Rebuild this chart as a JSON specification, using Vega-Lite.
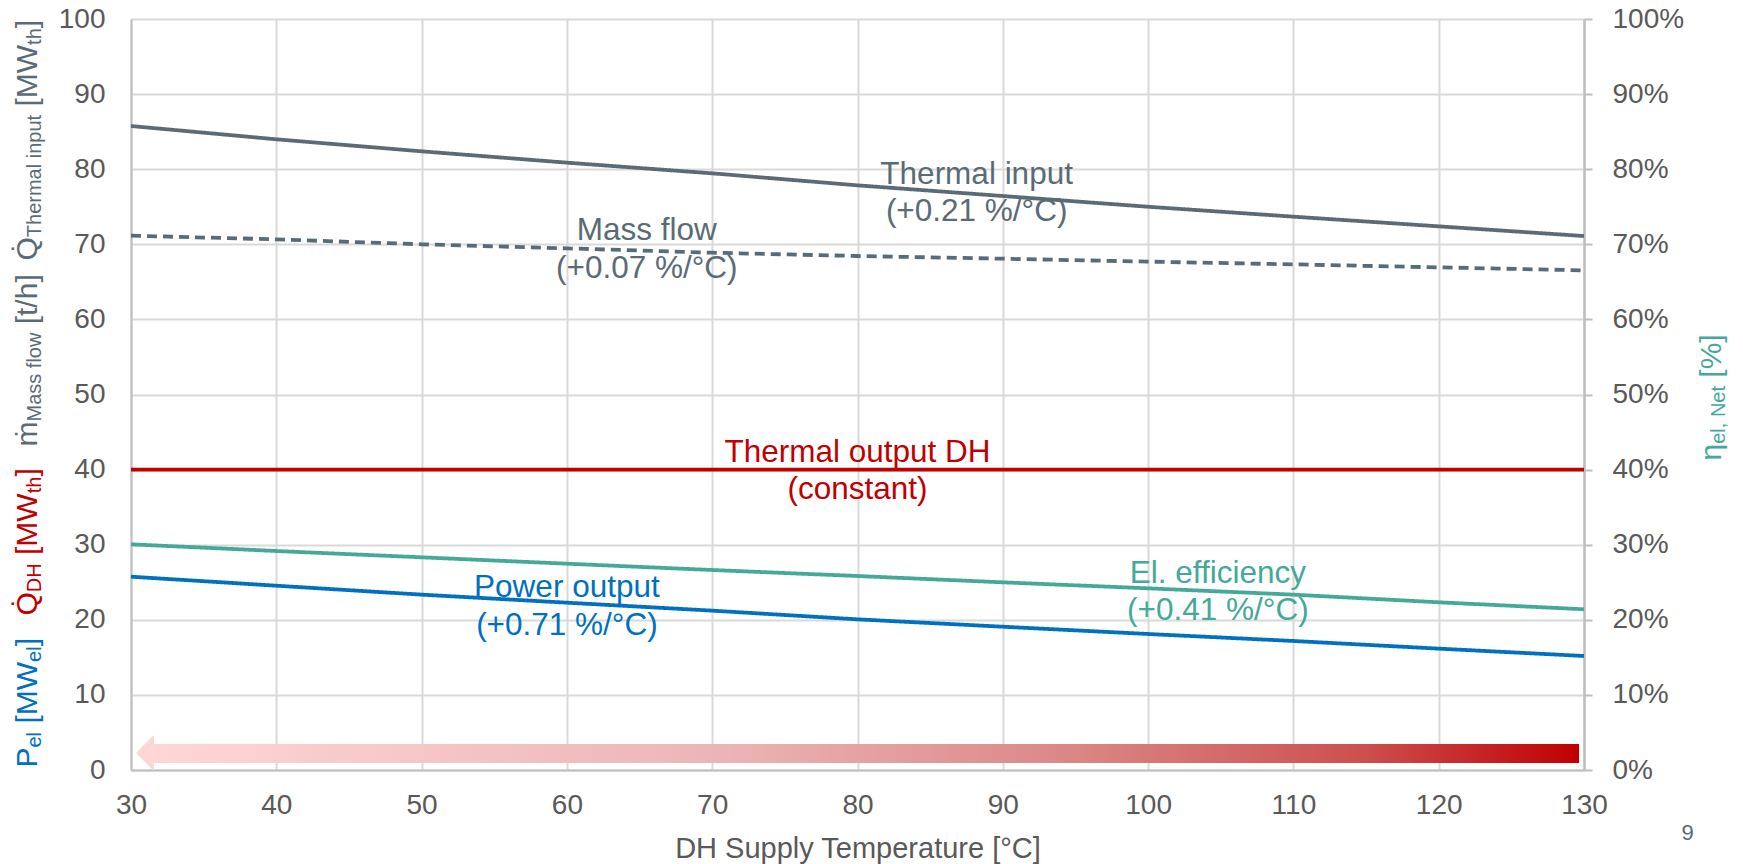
{
  "$schema": "https://vega.github.io/schema/vega-lite/v6.json",
  "width": 1453,
  "height": 751,
  "autosize": {"type": "none"},
  "padding": {"left": 131, "top": 19, "right": 159, "bottom": 94},
  "background": "white",
  "config": {"view": {"stroke": null}, "font": "Liberation Sans", "axis": {"titleFontWeight": "normal", "titleFont": "Liberation Sans", "labelFont": "Liberation Sans"}},
  "datasets": {
    "series": [
      {"series": "Thermal input", "t": 30, "v": 85.75}, {"series": "Thermal input", "t": 40, "v": 83.98}, {"series": "Thermal input", "t": 50, "v": 82.38}, {"series": "Thermal input", "t": 60, "v": 80.87}, {"series": "Thermal input", "t": 70, "v": 79.45}, {"series": "Thermal input", "t": 80, "v": 77.85}, {"series": "Thermal input", "t": 90, "v": 76.43}, {"series": "Thermal input", "t": 100, "v": 75.0}, {"series": "Thermal input", "t": 110, "v": 73.68}, {"series": "Thermal input", "t": 120, "v": 72.39}, {"series": "Thermal input", "t": 130, "v": 71.1},
      {"series": "Mass flow", "t": 30, "v": 71.15}, {"series": "Mass flow", "t": 40, "v": 70.66}, {"series": "Mass flow", "t": 50, "v": 70.0}, {"series": "Mass flow", "t": 60, "v": 69.46}, {"series": "Mass flow", "t": 70, "v": 68.88}, {"series": "Mass flow", "t": 80, "v": 68.44}, {"series": "Mass flow", "t": 90, "v": 68.08}, {"series": "Mass flow", "t": 100, "v": 67.69}, {"series": "Mass flow", "t": 110, "v": 67.33}, {"series": "Mass flow", "t": 120, "v": 66.93}, {"series": "Mass flow", "t": 130, "v": 66.53},
      {"series": "Thermal output DH", "t": 30, "v": 40}, {"series": "Thermal output DH", "t": 40, "v": 40}, {"series": "Thermal output DH", "t": 50, "v": 40}, {"series": "Thermal output DH", "t": 60, "v": 40}, {"series": "Thermal output DH", "t": 70, "v": 40}, {"series": "Thermal output DH", "t": 80, "v": 40}, {"series": "Thermal output DH", "t": 90, "v": 40}, {"series": "Thermal output DH", "t": 100, "v": 40}, {"series": "Thermal output DH", "t": 110, "v": 40}, {"series": "Thermal output DH", "t": 120, "v": 40}, {"series": "Thermal output DH", "t": 130, "v": 40},
      {"series": "El. efficiency", "t": 30, "v": 30.05}, {"series": "El. efficiency", "t": 40, "v": 29.16}, {"series": "El. efficiency", "t": 50, "v": 28.32}, {"series": "El. efficiency", "t": 60, "v": 27.47}, {"series": "El. efficiency", "t": 70, "v": 26.63}, {"series": "El. efficiency", "t": 80, "v": 25.83}, {"series": "El. efficiency", "t": 90, "v": 24.99}, {"series": "El. efficiency", "t": 100, "v": 24.19}, {"series": "El. efficiency", "t": 110, "v": 23.35}, {"series": "El. efficiency", "t": 120, "v": 22.33}, {"series": "El. efficiency", "t": 130, "v": 21.4},
      {"series": "Power output", "t": 30, "v": 25.74}, {"series": "Power output", "t": 40, "v": 24.54}, {"series": "Power output", "t": 50, "v": 23.35}, {"series": "Power output", "t": 60, "v": 22.28}, {"series": "Power output", "t": 70, "v": 21.22}, {"series": "Power output", "t": 80, "v": 20.06}, {"series": "Power output", "t": 90, "v": 19.08}, {"series": "Power output", "t": 100, "v": 18.11}, {"series": "Power output", "t": 110, "v": 17.18}, {"series": "Power output", "t": 120, "v": 16.16}, {"series": "Power output", "t": 130, "v": 15.18}
    ],
    "labels": [
      {"series": "Thermal input", "label": "Thermal input\n(+0.21 %/°C)", "x": 88.2, "y": 78.03},
      {"series": "Mass flow", "label": "Mass flow\n(+0.07 %/°C)", "x": 65.5, "y": 70.57},
      {"series": "Thermal output DH", "label": "Thermal output DH\n(constant)", "x": 80, "y": 41.05},
      {"series": "Power output", "label": "Power output\n(+0.71 %/°C)", "x": 60, "y": 23.0},
      {"series": "El. efficiency", "label": "El. efficiency\n(+0.41 %/°C)", "x": 104.8, "y": 24.94}
    ],
    "arrow": [{"x0": 31.58, "x1": 129.66, "y0": 0.93, "y1": 3.46}],
    "arrowhead": [{"x": 30.96, "y": 2.26}],
    "frag": [{}]
  },
  "layer": [
    {
      "data": {"name": "series"},
      "mark": {"type": "line", "strokeWidth": 3.8, "clip": false},
      "encoding": {
        "x": {"field": "t", "type": "quantitative", "scale": {"domain": [30, 130], "nice": false, "zero": false},
          "axis": {"orient": "bottom", "title": "DH Supply Temperature [°C]", "values": [30, 40, 50, 60, 70, 80, 90, 100, 110, 120, 130], "labelFontSize": 28, "labelColor": "#595959", "labelPadding": 21, "ticks": false, "domainColor": "#bfbfbf", "domainWidth": 2, "grid": true, "gridColor": "#d9d9d9", "gridWidth": 2, "titleFontSize": 29, "titleColor": "#595959", "titlePadding": 15, "labelFlush": false, "labelOverlap": false}},
        "y": {"field": "v", "type": "quantitative", "scale": {"domain": [0, 100], "nice": false},
          "axis": {"orient": "left", "title": null, "values": [0, 10, 20, 30, 40, 50, 60, 70, 80, 90, 100], "labelFontSize": 28, "labelColor": "#595959", "labelPadding": 26, "ticks": false, "tickSize": 0, "domainColor": "#bfbfbf", "domainWidth": 2, "grid": true, "gridColor": "#d9d9d9", "gridWidth": 2, "labelFlush": false, "labelOverlap": false}},
        "color": {"field": "series", "type": "nominal", "scale": {"domain": ["Thermal input", "Mass flow", "Thermal output DH", "El. efficiency", "Power output"], "range": ["#5b6b76", "#5b6b76", "#c00000", "#45a999", "#0070c0"]}, "legend": null},
        "strokeDash": {"field": "series", "type": "nominal", "scale": {"domain": ["Thermal input", "Mass flow", "Thermal output DH", "El. efficiency", "Power output"], "range": [[1, 0], [10, 6], [1, 0], [1, 0], [1, 0]]}, "legend": null}
      }
    },
    {
      "data": {"name": "arrow"},
      "mark": {"type": "rect", "fill": {"gradient": "linear", "x1": 0, "y1": 0, "x2": 1, "y2": 0, "stops": [{"offset": 0, "color": "#ffd6d6"}, {"offset": 0.4, "color": "#ebb5b5"}, {"offset": 0.65, "color": "#db8585"}, {"offset": 0.85, "color": "#cd4f4f"}, {"offset": 1, "color": "#c00000"}]}},
      "encoding": {
        "x": {"field": "x0", "type": "quantitative", "title": "DH Supply Temperature [°C]"}, "x2": {"field": "x1"},
        "y": {"field": "y0", "type": "quantitative", "axis": null}, "y2": {"field": "y1"}
      }
    },
    {
      "data": {"name": "arrowhead"},
      "mark": {"type": "point", "shape": "M -0.5 0 L 0.5 -1 L 0.5 1 Z", "size": 1296, "filled": true, "color": "#ffd6d6", "opacity": 1},
      "encoding": {
        "x": {"field": "x", "type": "quantitative", "title": "DH Supply Temperature [°C]"},
        "y": {"field": "y", "type": "quantitative", "axis": null}
      }
    },
    {
      "data": {"name": "labels"},
      "mark": {"type": "text", "fontSize": 31.5, "lineBreak": "\n", "lineHeight": 37.5, "align": "center", "baseline": "alphabetic", "font": "Liberation Sans"},
      "encoding": {
        "x": {"field": "x", "type": "quantitative", "title": "DH Supply Temperature [°C]"},
        "y": {"field": "y", "type": "quantitative", "axis": null},
        "text": {"field": "label"},
        "color": {"field": "series", "type": "nominal", "legend": null}
      }
    },
    {"data": {"name": "frag"}, "mark": {"type": "rule", "opacity": 0}, "encoding": {"y": {"datum": 0, "type": "quantitative", "scale": {"domain": [0, 100]},
      "axis": {"orient": "right", "values": [0, 10, 20, 30, 40, 50, 60, 70, 80, 90, 100], "labelExpr": "datum.value + '%'", "labelFontSize": 28, "labelColor": "#595959", "labelPadding": 20, "ticks": true, "tickSize": 8, "tickColor": "#bfbfbf", "tickWidth": 2, "domainColor": "#bfbfbf", "domainWidth": 2.5, "grid": false, "labelFlush": false, "labelOverlap": false,
        "title": "η", "titleX": 136, "titleY": 441, "titleAngle": 270, "titleAlign": "left", "titleBaseline": "alphabetic", "titleFontSize": 30, "titleColor": "#45a999"}}}},
    {"data": {"name": "frag"}, "mark": {"type": "rule", "opacity": 0}, "encoding": {"y": {"datum": 0, "type": "quantitative", "scale": {"domain": [0, 100]}, "axis": {"orient": "right", "title": "el, Net", "titleX": 140, "titleY": 424.3, "titleAngle": 270, "titleAlign": "left", "titleBaseline": "alphabetic", "titleFontSize": 20, "titleColor": "#45a999", "labels": false, "ticks": false, "domain": false, "grid": false}}}},
    {"data": {"name": "frag"}, "mark": {"type": "rule", "opacity": 0}, "encoding": {"y": {"datum": 0, "type": "quantitative", "scale": {"domain": [0, 100]}, "axis": {"orient": "right", "title": "[%]", "titleX": 136, "titleY": 358.2, "titleAngle": 270, "titleAlign": "left", "titleBaseline": "alphabetic", "titleFontSize": 30, "titleColor": "#45a999", "labels": false, "ticks": false, "domain": false, "grid": false}}}},
    {"data": {"name": "frag"}, "mark": {"type": "rule", "opacity": 0}, "encoding": {"y": {"datum": 0, "type": "quantitative", "scale": {"domain": [0, 100]}, "axis": {"orient": "right", "title": "9", "titleX": 103, "titleY": 820, "titleAngle": 0, "titleAlign": "center", "titleBaseline": "alphabetic", "titleFontSize": 22, "titleColor": "#5a6a78", "labels": false, "ticks": false, "domain": false, "grid": false}}}},
    {"data": {"name": "frag"}, "mark": {"type": "rule", "opacity": 0}, "encoding": {"y": {"datum": 0, "type": "quantitative", "scale": {"domain": [0, 100]}, "axis": {"orient": "left", "title": "P", "titleX": -95, "titleY": 748, "titleAngle": 270, "titleAlign": "left", "titleBaseline": "alphabetic", "titleFontSize": 30, "titleColor": "#0070c0", "labels": false, "ticks": false, "domain": false, "grid": false}}}},
    {"data": {"name": "frag"}, "mark": {"type": "rule", "opacity": 0}, "encoding": {"y": {"datum": 0, "type": "quantitative", "scale": {"domain": [0, 100]}, "axis": {"orient": "left", "title": "el", "titleX": -91, "titleY": 728, "titleAngle": 270, "titleAlign": "left", "titleBaseline": "alphabetic", "titleFontSize": 20, "titleColor": "#0070c0", "labels": false, "ticks": false, "domain": false, "grid": false}}}},
    {"data": {"name": "frag"}, "mark": {"type": "rule", "opacity": 0}, "encoding": {"y": {"datum": 0, "type": "quantitative", "scale": {"domain": [0, 100]}, "axis": {"orient": "left", "title": "[MW", "titleX": -95, "titleY": 704.1, "titleAngle": 270, "titleAlign": "left", "titleBaseline": "alphabetic", "titleFontSize": 30, "titleColor": "#0070c0", "labels": false, "ticks": false, "domain": false, "grid": false}}}},
    {"data": {"name": "frag"}, "mark": {"type": "rule", "opacity": 0}, "encoding": {"y": {"datum": 0, "type": "quantitative", "scale": {"domain": [0, 100]}, "axis": {"orient": "left", "title": "el", "titleX": -91, "titleY": 642.4, "titleAngle": 270, "titleAlign": "left", "titleBaseline": "alphabetic", "titleFontSize": 20, "titleColor": "#0070c0", "labels": false, "ticks": false, "domain": false, "grid": false}}}},
    {"data": {"name": "frag"}, "mark": {"type": "rule", "opacity": 0}, "encoding": {"y": {"datum": 0, "type": "quantitative", "scale": {"domain": [0, 100]}, "axis": {"orient": "left", "title": "]", "titleX": -95, "titleY": 626.8, "titleAngle": 270, "titleAlign": "left", "titleBaseline": "alphabetic", "titleFontSize": 30, "titleColor": "#0070c0", "labels": false, "ticks": false, "domain": false, "grid": false}}}},
    {"data": {"name": "frag"}, "mark": {"type": "rule", "opacity": 0}, "encoding": {"y": {"datum": 0, "type": "quantitative", "scale": {"domain": [0, 100]}, "axis": {"orient": "left", "title": "Q̇", "titleX": -95, "titleY": 596, "titleAngle": 270, "titleAlign": "left", "titleBaseline": "alphabetic", "titleFontSize": 30, "titleColor": "#c00000", "labels": false, "ticks": false, "domain": false, "grid": false}}}},
    {"data": {"name": "frag"}, "mark": {"type": "rule", "opacity": 0}, "encoding": {"y": {"datum": 0, "type": "quantitative", "scale": {"domain": [0, 100]}, "axis": {"orient": "left", "title": "DH", "titleX": -91, "titleY": 572.7, "titleAngle": 270, "titleAlign": "left", "titleBaseline": "alphabetic", "titleFontSize": 20, "titleColor": "#c00000", "labels": false, "ticks": false, "domain": false, "grid": false}}}},
    {"data": {"name": "frag"}, "mark": {"type": "rule", "opacity": 0}, "encoding": {"y": {"datum": 0, "type": "quantitative", "scale": {"domain": [0, 100]}, "axis": {"orient": "left", "title": "[MW", "titleX": -95, "titleY": 535.5, "titleAngle": 270, "titleAlign": "left", "titleBaseline": "alphabetic", "titleFontSize": 30, "titleColor": "#c00000", "labels": false, "ticks": false, "domain": false, "grid": false}}}},
    {"data": {"name": "frag"}, "mark": {"type": "rule", "opacity": 0}, "encoding": {"y": {"datum": 0, "type": "quantitative", "scale": {"domain": [0, 100]}, "axis": {"orient": "left", "title": "th", "titleX": -91, "titleY": 473.8, "titleAngle": 270, "titleAlign": "left", "titleBaseline": "alphabetic", "titleFontSize": 20, "titleColor": "#c00000", "labels": false, "ticks": false, "domain": false, "grid": false}}}},
    {"data": {"name": "frag"}, "mark": {"type": "rule", "opacity": 0}, "encoding": {"y": {"datum": 0, "type": "quantitative", "scale": {"domain": [0, 100]}, "axis": {"orient": "left", "title": "]", "titleX": -95, "titleY": 457.1, "titleAngle": 270, "titleAlign": "left", "titleBaseline": "alphabetic", "titleFontSize": 30, "titleColor": "#c00000", "labels": false, "ticks": false, "domain": false, "grid": false}}}},
    {"data": {"name": "frag"}, "mark": {"type": "rule", "opacity": 0}, "encoding": {"y": {"datum": 0, "type": "quantitative", "scale": {"domain": [0, 100]}, "axis": {"orient": "left", "title": "ṁ", "titleX": -95, "titleY": 427, "titleAngle": 270, "titleAlign": "left", "titleBaseline": "alphabetic", "titleFontSize": 30, "titleColor": "#5b6b76", "labels": false, "ticks": false, "domain": false, "grid": false}}}},
    {"data": {"name": "frag"}, "mark": {"type": "rule", "opacity": 0}, "encoding": {"y": {"datum": 0, "type": "quantitative", "scale": {"domain": [0, 100]}, "axis": {"orient": "left", "title": "Mass flow", "titleX": -91, "titleY": 402, "titleAngle": 270, "titleAlign": "left", "titleBaseline": "alphabetic", "titleFontSize": 20, "titleColor": "#5b6b76", "labels": false, "ticks": false, "domain": false, "grid": false}}}},
    {"data": {"name": "frag"}, "mark": {"type": "rule", "opacity": 0}, "encoding": {"y": {"datum": 0, "type": "quantitative", "scale": {"domain": [0, 100]}, "axis": {"orient": "left", "title": "[t/h]", "titleX": -95, "titleY": 304.8, "titleAngle": 270, "titleAlign": "left", "titleBaseline": "alphabetic", "titleFontSize": 30, "titleColor": "#5b6b76", "labels": false, "ticks": false, "domain": false, "grid": false}}}},
    {"data": {"name": "frag"}, "mark": {"type": "rule", "opacity": 0}, "encoding": {"y": {"datum": 0, "type": "quantitative", "scale": {"domain": [0, 100]}, "axis": {"orient": "left", "title": "Q̇", "titleX": -95, "titleY": 241, "titleAngle": 270, "titleAlign": "left", "titleBaseline": "alphabetic", "titleFontSize": 30, "titleColor": "#5b6b76", "labels": false, "ticks": false, "domain": false, "grid": false}}}},
    {"data": {"name": "frag"}, "mark": {"type": "rule", "opacity": 0}, "encoding": {"y": {"datum": 0, "type": "quantitative", "scale": {"domain": [0, 100]}, "axis": {"orient": "left", "title": "Thermal input", "titleX": -91, "titleY": 217.7, "titleAngle": 270, "titleAlign": "left", "titleBaseline": "alphabetic", "titleFontSize": 20, "titleColor": "#5b6b76", "labels": false, "ticks": false, "domain": false, "grid": false}}}},
    {"data": {"name": "frag"}, "mark": {"type": "rule", "opacity": 0}, "encoding": {"y": {"datum": 0, "type": "quantitative", "scale": {"domain": [0, 100]}, "axis": {"orient": "left", "title": "[MW", "titleX": -95, "titleY": 87.1, "titleAngle": 270, "titleAlign": "left", "titleBaseline": "alphabetic", "titleFontSize": 30, "titleColor": "#5b6b76", "labels": false, "ticks": false, "domain": false, "grid": false}}}},
    {"data": {"name": "frag"}, "mark": {"type": "rule", "opacity": 0}, "encoding": {"y": {"datum": 0, "type": "quantitative", "scale": {"domain": [0, 100]}, "axis": {"orient": "left", "title": "th", "titleX": -91, "titleY": 25.4, "titleAngle": 270, "titleAlign": "left", "titleBaseline": "alphabetic", "titleFontSize": 20, "titleColor": "#5b6b76", "labels": false, "ticks": false, "domain": false, "grid": false}}}},
    {"data": {"name": "frag"}, "mark": {"type": "rule", "opacity": 0}, "encoding": {"y": {"datum": 0, "type": "quantitative", "scale": {"domain": [0, 100]}, "axis": {"orient": "left", "title": "]", "titleX": -95, "titleY": 8.7, "titleAngle": 270, "titleAlign": "left", "titleBaseline": "alphabetic", "titleFontSize": 30, "titleColor": "#5b6b76", "labels": false, "ticks": false, "domain": false, "grid": false}}}}
  ],
  "resolve": {"axis": {"y": "independent"}}
}
